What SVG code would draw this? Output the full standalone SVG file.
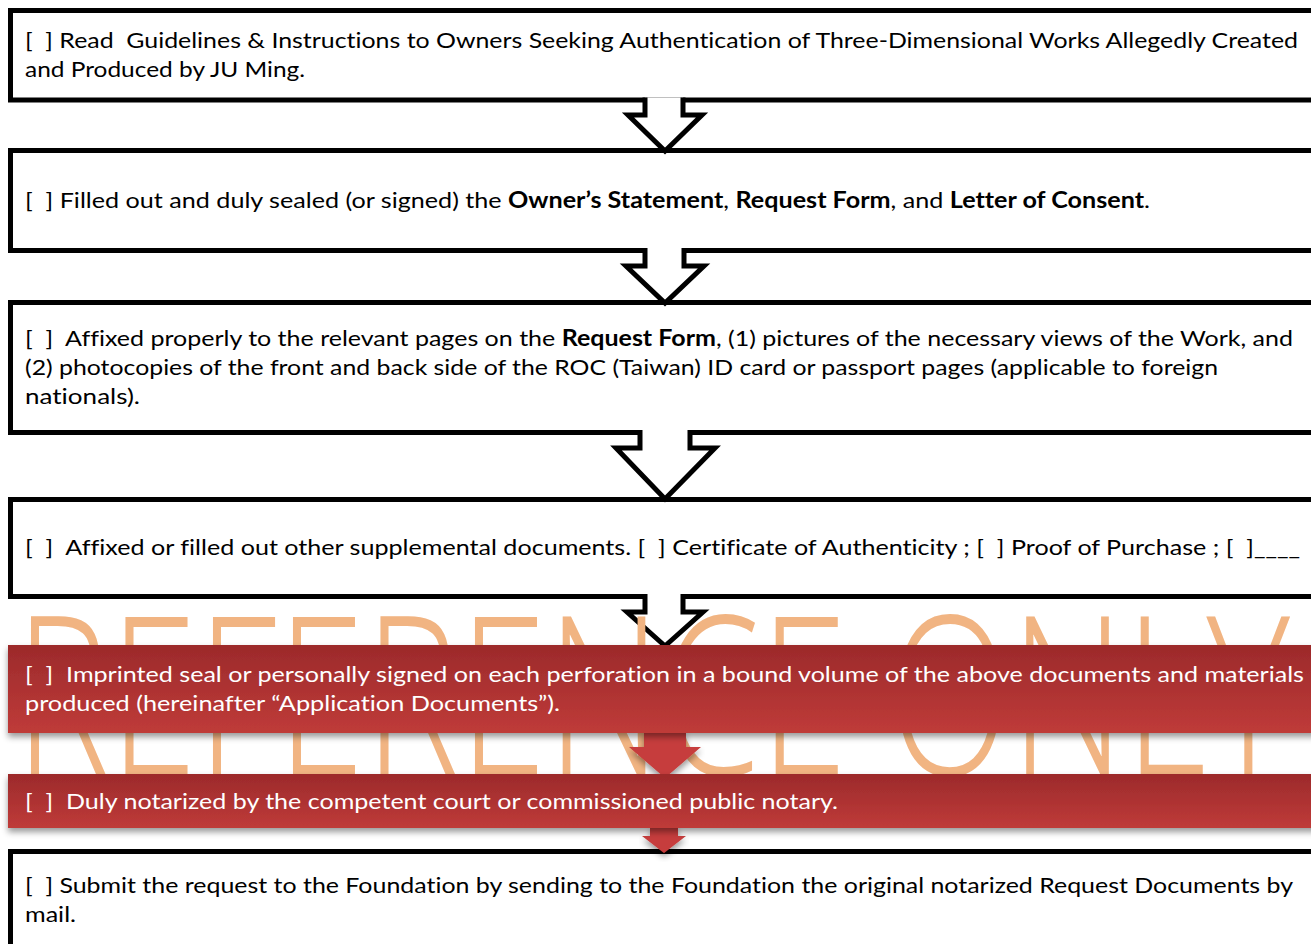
<svg xmlns="http://www.w3.org/2000/svg" width="1311" height="944" viewBox="0 0 1311 944">
<defs>
<linearGradient id="redg" x1="0" y1="0" x2="0" y2="1">
<stop offset="0" stop-color="#9c2a2b"/>
<stop offset="1" stop-color="#bf3b39"/>
</linearGradient>
<filter id="sh" x="-5%" y="-30%" width="110%" height="160%">
<feDropShadow dx="0" dy="4" stdDeviation="3" flood-color="#000" flood-opacity="0.4"/>
</filter>
</defs>
<style>
.box{fill:#fff;stroke:#000;stroke-width:5}
.red{fill:url(#redg);filter:url(#sh)}
.t{font-family:Lato,"Open Sans","Liberation Sans",sans-serif;font-size:22px;fill:#000;white-space:pre;font-variant-ligatures:none}
.w{fill:#fff}
.b{font-weight:bold}
.af{fill:#fff;stroke:none}
.al{fill:none;stroke:#000;stroke-width:5;stroke-linejoin:miter}
.ra{fill:#c63e3c;filter:url(#sh)}
.wm{font-family:"Open Sans","Liberation Sans",sans-serif;font-weight:300;font-size:222px;fill:#f1b482}
</style>
<rect width="1311" height="944" fill="#fff"/>

<g id="node1">
<rect class="box" x="10.5" y="10.5" width="1320" height="89.5"/>
<text class="t" x="25" y="48" textLength="1273" lengthAdjust="spacingAndGlyphs">[  ] Read  Guidelines &amp; Instructions to Owners Seeking Authentication of Three-Dimensional Works Allegedly Created</text>
<text class="t" x="25" y="77" textLength="280" lengthAdjust="spacingAndGlyphs">and Produced by JU Ming.</text>
</g>

<g id="node2">
<rect class="box" x="10.5" y="150.5" width="1320" height="100"/>
<text class="t" x="25" y="208" textLength="1125" lengthAdjust="spacingAndGlyphs">[  ] Filled out and duly sealed (or signed) the <tspan class="b">Owner’s Statement</tspan>, <tspan class="b">Request Form</tspan>, and <tspan class="b">Letter of Consent</tspan>.</text>
</g>

<g id="node3">
<rect class="box" x="10.5" y="302.5" width="1320" height="130"/>
<text class="t" x="25" y="346" textLength="1268" lengthAdjust="spacingAndGlyphs">[  ]  Affixed properly to the relevant pages on the <tspan class="b">Request Form</tspan>, (1) pictures of the necessary views of the Work, and</text>
<text class="t" x="25" y="375" textLength="1193" lengthAdjust="spacingAndGlyphs">(2) photocopies of the front and back side of the ROC (Taiwan) ID card or passport pages (applicable to foreign</text>
<text class="t" x="25" y="404" textLength="115" lengthAdjust="spacingAndGlyphs">nationals).</text>
</g>

<g id="node4">
<rect class="box" x="10.5" y="499.5" width="1320" height="97"/>
<text class="t" x="25" y="555" textLength="1275" lengthAdjust="spacingAndGlyphs">[  ]  Affixed or filled out other supplemental documents. [  ] Certificate of Authenticity ; [  ] Proof of Purchase ; [  ]____</text>
</g>

<g id="node7">
<rect class="box" x="10.5" y="851.5" width="1320" height="200"/>
<text class="t" x="25" y="893" textLength="1268" lengthAdjust="spacingAndGlyphs">[  ] Submit the request to the Foundation by sending to the Foundation the original notarized Request Documents by</text>
<text class="t" x="25" y="922" textLength="51" lengthAdjust="spacingAndGlyphs">mail.</text>
</g>

<g id="connectors">
<polygon class="af" points="645,97.5 645,115 628,115 665,151 702,115 683,115 683,97.5"/>
<polyline class="al" points="645,97.5 645,115 628,115 665,151 702,115 683,115 683,97.5"/>
<polygon class="af" points="645,248 645,266 626,266 665,303 704,266 684,266 684,248"/>
<polyline class="al" points="645,248 645,266 626,266 665,303 704,266 684,266 684,248"/>
<polygon class="af" points="640,430 640,448 616,448 665,499 715,448 690,448 690,430"/>
<polyline class="al" points="640,430 640,448 616,448 665,499 715,448 690,448 690,430"/>
<polygon class="af" points="645,594 645,612 627,612 665,646 703,612 683,612 683,594"/>
<polyline class="al" points="645,594 645,612 627,612 665,646 703,612 683,612 683,594"/>
</g>

<text id="watermark" class="wm" x="15" y="775" textLength="1275" lengthAdjust="spacingAndGlyphs">REFERENCE ONLY</text>

<g id="red-connectors">
<polygon class="ra" points="644,731 686,731 686,747 701,747 665,778 629,747 644,747"/>
<polygon class="ra" points="650,826 678,826 678,836 686,836 664,853 642,836 650,836"/>
</g>

<g id="node5">
<rect class="red" x="8" y="645" width="1320" height="88"/>
<text class="t w" x="25" y="682" textLength="1279" lengthAdjust="spacingAndGlyphs">[  ]  Imprinted seal or personally signed on each perforation in a bound volume of the above documents and materials</text>
<text class="t w" x="25" y="711" textLength="535" lengthAdjust="spacingAndGlyphs">produced (hereinafter “Application Documents”).</text>
</g>

<g id="node6">
<rect class="red" x="8" y="774" width="1320" height="54"/>
<text class="t w" x="25" y="809" textLength="813" lengthAdjust="spacingAndGlyphs">[  ]  Duly notarized by the competent court or commissioned public notary.</text>
</g>
</svg>
